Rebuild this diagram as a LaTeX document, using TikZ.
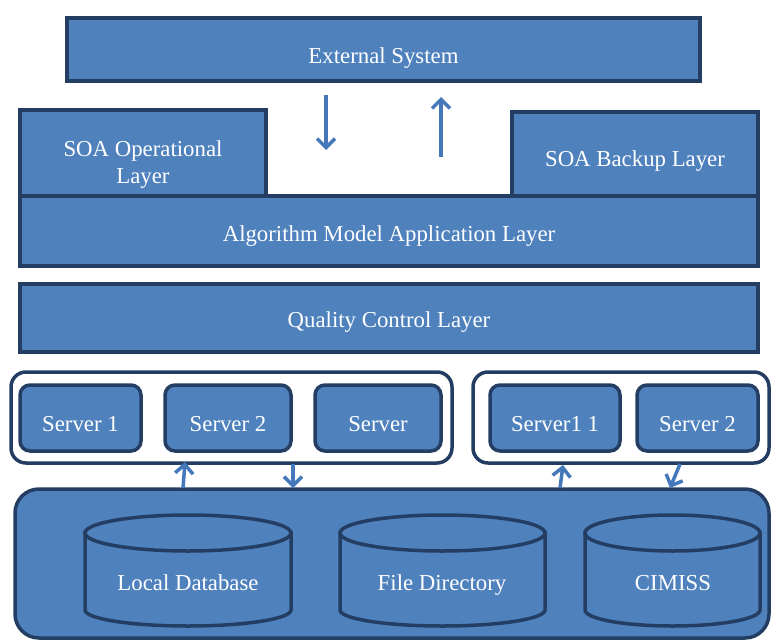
\documentclass[tikz,border=0pt]{standalone}
\usepackage{fontspec}
\setmainfont{Liberation Serif}
\usetikzlibrary{arrows.meta}
\definecolor{boxblue}{RGB}{79,129,189}
\definecolor{edgeblue}{RGB}{36,62,99}
\definecolor{arrowblue}{RGB}{68,120,186}
\begin{document}
\begin{tikzpicture}[x=1pt,y=-1pt,
  lbl/.style={text=white,font=\fontsize{22.8}{27}\selectfont,inner sep=0pt,
    text height=15pt,text depth=5pt},
  lbltwo/.style={text=white,font=\fontsize{22.8}{27}\selectfont,inner sep=0pt,align=center},
  txt/.style 2 args={label={[lbl,yshift=-#2]center:#1}},
  layer/.style={draw=edgeblue,line width=3.5pt,fill=boxblue,inner sep=0pt,outer sep=0pt},
  sized/.style 2 args={minimum width=#1,minimum height=#2},
  group/.style={draw=edgeblue,line width=3.5pt,fill=white,rounded corners=15pt,inner sep=0pt},
  srv/.style={layer,rounded corners=10pt},
  store/.style={draw=edgeblue,line width=3.5pt,fill=boxblue,rounded corners=24pt,inner sep=0pt},
  drum/.style={draw=edgeblue,line width=3.5pt,fill=boxblue},
  flow/.style={draw=arrowblue,line width=3.5pt,-{Straight Barb[length=9pt,width=18pt]}}]
\useasboundingbox (0,0) rectangle (773,642);

% top layers
\node[layer,sized={633pt}{63pt},txt={External System}{8.8pt}] (ext) at (383.5,49.5) {};
\node[layer,sized={246pt}{86pt},
      label={[lbltwo,yshift=-11.7pt]center:SOA Operational\\Layer}] (soaop) at (143,153) {};
\node[layer,sized={246pt}{84pt},txt={SOA Backup Layer}{7.8pt}] (soabk) at (635,154) {};
\node[layer,sized={738pt}{70pt},txt={Algorithm Model Application Layer}{5.3pt}] (algo) at (389,231) {};
\node[layer,sized={738pt}{68pt},txt={Quality Control Layer}{4.8pt}] (qc) at (389,318) {};

% server groups
\node[group,sized={441pt}{91pt}] (grpL) at (231.5,417.5) {};
\node[group,sized={296pt}{91pt}] (grpR) at (621,417.5) {};
\node[srv,sized={121pt}{66pt},txt={Server 1}{8.8pt}] (s1) at (80.5,418) {};
\node[srv,sized={126pt}{66pt},txt={Server 2}{8.8pt}] (s2) at (228,418) {};
\node[srv,sized={126pt}{66pt},txt={Server}{8.8pt}] (s3) at (378,418) {};
\node[srv,sized={130pt}{66pt},txt={Server1 1}{8.8pt}] (s4) at (555,418) {};
\node[srv,sized={121pt}{66pt},txt={Server 2}{8.8pt}] (s5) at (697.5,418) {};

% storage area
\node[store,sized={754pt}{149pt}] (storage) at (392,563.5) {};

% storage cylinders
\foreach \xa/\xb in {85/291, 340/545, 585/760}{
  \path[drum] (\xa,533) -- (\xa,610)
     arc[start angle=180,end angle=0,x radius={(\xb-\xa)/2},y radius=16]
     -- (\xb,533) -- cycle;
  \path[drum] ({(\xa+\xb)/2},533) ellipse[x radius={(\xb-\xa)/2},y radius=18];
}
\node[lbl] (lblL) at (188,585) {Local Database};
\node[lbl] (lblF) at (442,585) {File Directory};
\node[lbl] (lblC) at (673,585) {CIMISS};

% data flow arrows
\coordinate (extA) at (326,95);
\coordinate (extB) at (326,150);
\coordinate (extC) at (441,157);
\coordinate (extD) at (441,97);
\draw[flow] (extA) -- (extB);
\draw[flow] (extC) -- (extD);

\coordinate (uL1) at (183,488);
\coordinate (uL2) at (185,462);
\coordinate (dL1) at (293,464);
\coordinate (dL2) at (293,488);
\coordinate (uR1) at (560,488);
\coordinate (uR2) at (563,465);
\coordinate (dR1) at (680,464);
\coordinate (dR2) at (670,488);
\draw[flow] (uL1) -- (uL2);
\draw[flow] (dL1) -- (dL2);
\draw[flow] (uR1) -- (uR2);
\draw[flow] (dR1) -- (dR2);
\end{tikzpicture}
\end{document}
